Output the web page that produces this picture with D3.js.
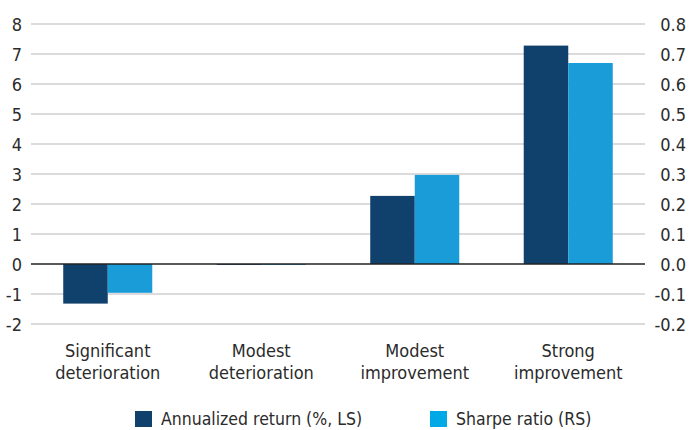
<!DOCTYPE html>
<html>
<head>
<meta charset="utf-8">
<script src="https://cdn.jsdelivr.net/npm/d3@7"></script>
<style>
  body { margin: 0; background: #fff; }
  svg text { font-family: "DejaVu Sans Condensed", "Liberation Sans", sans-serif; fill: #2b2b2b; }
</style>
</head>
<body>
<div id="chart"></div>
<script>
var categories = [["Significant", "deterioration"], ["Modest", "deterioration"], ["Modest", "improvement"], ["Strong", "improvement"]];
var annualReturn = [-1.32, -0.03, 2.27, 7.28];
var sharpeRatio = [-0.096, -0.003, 0.297, 0.67];
var leftTicks = [-2, -1, 0, 1, 2, 3, 4, 5, 6, 7, 8];
var rightTicks = [-0.2, -0.1, 0, 0.1, 0.2, 0.3, 0.4, 0.5, 0.6, 0.7, 0.8];
var seriesNames = ["Annualized return (%, LS)", "Sharpe ratio (RS)"];

var svgWidth = 690;
var svgHeight = 430;
var margin = { top: 24, right: 45, bottom: 106, left: 31 };
var width = svgWidth - margin.left - margin.right;
var height = svgHeight - margin.top - margin.bottom;

var svg = d3.select("#chart")
  .append("svg")
  .attr("width", svgWidth)
  .attr("height", svgHeight);

var chartGroup = svg.append("g")
  .attr("transform", `translate(${margin.left}, ${margin.top})`);

var xScale = d3.scaleBand()
  .domain(d3.range(categories.length))
  .range([0, width])
  .paddingInner(0.42)
  .paddingOuter(0.21);

var xInner = d3.scaleBand()
  .domain([0, 1])
  .range([0, xScale.bandwidth()]);

var yLeft = d3.scaleLinear().domain([-2, 8]).range([height, 0]);
var yRight = d3.scaleLinear().domain([-0.2, 0.8]).range([height, 0]);

// hyphen instead of unicode minus, like the original
var fmtLeft = d => String(d);
var fmtRight = d => d3.format(".1f")(d).replace("\u2212", "-");

// gridlines
chartGroup.selectAll(".grid")
  .data(leftTicks.filter(d => d !== 0))
  .enter()
  .append("line")
  .attr("x1", 0)
  .attr("x2", width)
  .attr("y1", d => yLeft(d))
  .attr("y2", d => yLeft(d))
  .attr("stroke", "#cfcfcf")
  .attr("stroke-width", 1.5);

// left axis labels
var leftAxis = d3.axisLeft(yLeft).tickValues(leftTicks).tickSize(0).tickPadding(9).tickFormat(fmtLeft);
var gl = chartGroup.append("g").call(leftAxis);
gl.select(".domain").remove();
gl.selectAll("text").style("font-size", "18px").attr("dy", "0.36em");

// right axis labels, right aligned near the edge
var rightAxis = d3.axisRight(yRight).tickValues(rightTicks).tickSize(0).tickPadding(41).tickFormat(fmtRight);
var gr = chartGroup.append("g").attr("transform", `translate(${width}, 0)`).call(rightAxis);
gr.select(".domain").remove();
gr.selectAll("text").style("font-size", "18px").attr("dy", "0.36em").attr("text-anchor", "end");

// bars
var groups = chartGroup.selectAll(".cat")
  .data(categories)
  .enter()
  .append("g")
  .attr("transform", (d, i) => `translate(${xScale(i)}, 0)`);

groups.append("rect")
  .attr("x", xInner(0))
  .attr("width", xInner.bandwidth())
  .attr("y", (d, i) => yLeft(Math.max(0, annualReturn[i])))
  .attr("height", (d, i) => Math.abs(yLeft(annualReturn[i]) - yLeft(0)))
  .attr("fill", "#10406c");

groups.append("rect")
  .attr("x", xInner(1))
  .attr("width", xInner.bandwidth())
  .attr("y", (d, i) => yRight(Math.max(0, sharpeRatio[i])))
  .attr("height", (d, i) => Math.abs(yRight(sharpeRatio[i]) - yRight(0)))
  .attr("fill", "#1a9cd8");

// zero line
chartGroup.append("line")
  .attr("x1", 0)
  .attr("x2", width)
  .attr("y1", yLeft(0))
  .attr("y2", yLeft(0))
  .attr("stroke", "#222")
  .attr("stroke-width", 1.5);

// category labels
var labels = groups.append("text")
  .attr("text-anchor", "middle")
  .attr("x", xScale.bandwidth() / 2)
  .style("font-size", "18px");
labels.append("tspan").attr("x", xScale.bandwidth() / 2).attr("y", height + 33).text(d => d[0]);
labels.append("tspan").attr("x", xScale.bandwidth() / 2).attr("y", height + 55).text(d => d[1]);

// legend
var legendX = [135, 430];
var legendColors = ["#10406c", "#00a9e6"];
var legend = svg.selectAll(".legend")
  .data(seriesNames)
  .enter()
  .append("g")
  .attr("transform", (d, i) => `translate(${legendX[i]}, 411)`);
legend.append("rect")
  .attr("width", 17)
  .attr("height", 16)
  .attr("fill", (d, i) => legendColors[i]);
legend.append("text")
  .attr("x", 26)
  .attr("y", 14)
  .style("font-size", "17.5px")
  .text(d => d);
</script>
</body>
</html>
